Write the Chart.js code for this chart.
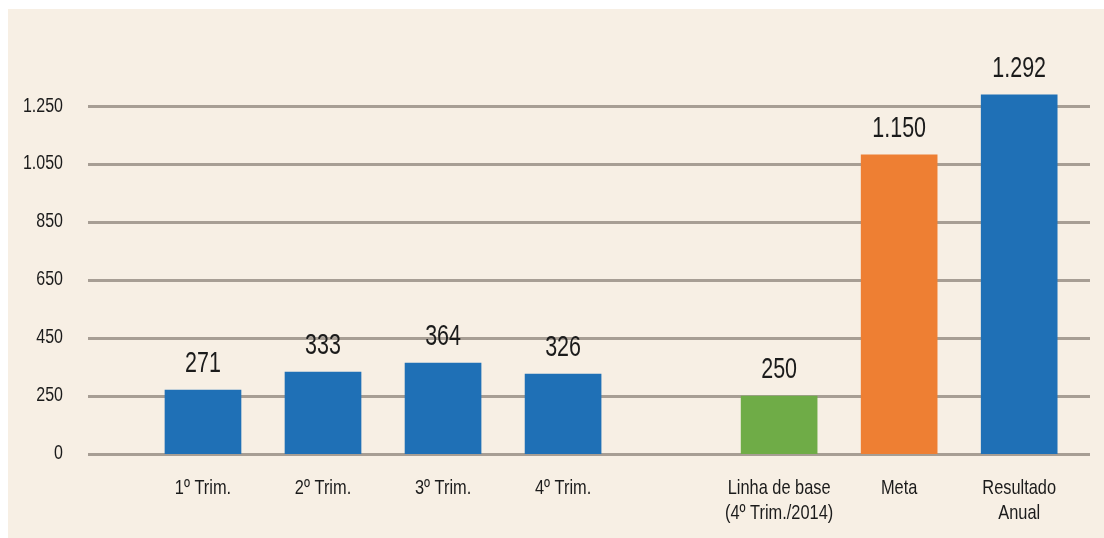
<!DOCTYPE html>
<html>
<head>
<meta charset="utf-8">
<script src="https://cdn.jsdelivr.net/npm/chart.js@4.4.1/dist/chart.umd.min.js"></script>
<style>
  html, body { margin: 0; padding: 0; background: #ffffff; }
  #wrap { position: absolute; left: 8px; top: 9px; width: 1096px; height: 529px; background: #f7efe4; }
  canvas { display: block; }
</style>
</head>
<body>
<div id="wrap"><canvas id="c" width="1096" height="529"></canvas></div>
<script>
// ---- data ----
const categories = [
  '1º Trim.', '2º Trim.', '3º Trim.', '4º Trim.',
  ['Linha de base', '(4º Trim./2014)'], 'Meta', ['Resultado', 'Anual']
];
const barValues   = [271, 333, 364, 326, 250, 1085, 1292];
const valueLabels = ['271', '333', '364', '326', '250', '1.150', '1.292'];
const yTickValues = [50, 250, 450, 650, 850, 1050, 1250];
const yTickLabels = ['0', '250', '450', '650', '850', '1.050', '1.250'];

// ---- styling ----
const BLUE = '#1f70b6', GREEN = '#6fac47', ORANGE = '#ee7f33';
const barColors = [BLUE, BLUE, BLUE, BLUE, GREEN, ORANGE, BLUE];
const GROUP_GAP = 0.8;   // extra space before the second group
const FONT = "'Liberation Sans', Arial, sans-serif";
const TEXT = '#1b1b1b';

const xPos = categories.map((c, i) => i + (i >= 4 ? GROUP_GAP : 0));

function narrowText(ctx, text, x, y, sx) {
  ctx.save();
  ctx.translate(x, y);
  ctx.scale(sx, 1);
  ctx.fillText(text, 0, 0);
  ctx.restore();
}

const labelPlugin = {
  id: 'narrowLabels',
  afterDatasetsDraw(chart) {
    const ctx = chart.ctx;
    const area = chart.chartArea;
    const xs = chart.scales.x, ys = chart.scales.y;
    const meta = chart.getDatasetMeta(0);
    ctx.save();
    ctx.fillStyle = TEXT;

    // value labels above bars
    ctx.font = '29px ' + FONT;
    ctx.textAlign = 'center';
    ctx.textBaseline = 'alphabetic';
    meta.data.forEach((bar, i) => narrowText(ctx, valueLabels[i], bar.x, bar.y - 18, 0.74));

    // y tick labels
    ctx.font = '20px ' + FONT;
    ctx.textAlign = 'right';
    ctx.textBaseline = 'middle';
    yTickValues.forEach((v, i) => narrowText(ctx, yTickLabels[i], area.left - 25, ys.getPixelForValue(v) - 1, 0.8));

    // x category labels
    ctx.font = '21px ' + FONT;
    ctx.textAlign = 'center';
    ctx.textBaseline = 'middle';
    categories.forEach((c, i) => {
      const lines = Array.isArray(c) ? c : [c];
      const x = xs.getPixelForValue(xPos[i]);
      lines.forEach((ln, k) => narrowText(ctx, ln, x, area.bottom + 34 + k * 25, 0.78));
    });
    ctx.restore();
  }
};

new Chart(document.getElementById('c'), {
  type: 'bar',
  data: {
    datasets: [{
      data: barValues.map((v, i) => ({ x: xPos[i], y: v })),
      backgroundColor: barColors,
      borderWidth: 0,
      barThickness: 76
    }]
  },
  plugins: [labelPlugin],
  options: {
    responsive: false,
    animation: false,
    devicePixelRatio: 1,
    layout: { padding: { top: 39, right: 14, left: 0, bottom: 0 } },
    plugins: { legend: { display: false }, tooltip: { enabled: false }, title: { display: false } },
    scales: {
      x: {
        type: 'linear',
        offset: false,
        min: -0.958,
        max: 7.39,
        afterBuildTicks: s => { s.ticks = xPos.map(v => ({ value: v })); },
        afterFit: s => { s.height = 84; },
        grid: { display: false, offset: false },
        border: { display: false },
        ticks: { display: false }
      },
      y: {
        min: 50,
        max: 1454,
        afterBuildTicks: s => { s.ticks = yTickValues.map(v => ({ value: v })); },
        afterFit: s => { s.width = 80; },
        grid: { color: '#a79e94', lineWidth: 3, drawTicks: false },
        border: { display: false },
        ticks: { display: false }
      }
    }
  }
});
</script>
</body>
</html>
